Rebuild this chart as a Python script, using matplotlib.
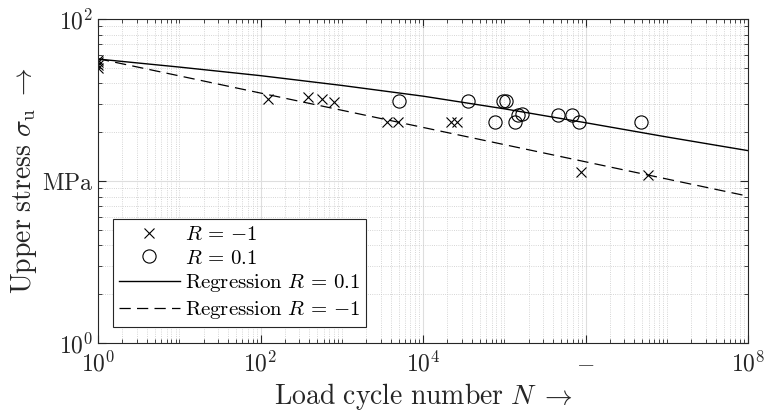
import numpy as np
import matplotlib
matplotlib.use("Agg")
import matplotlib.pyplot as plt
from matplotlib.ticker import FixedLocator, FixedFormatter, LogLocator, NullFormatter

plt.rcParams['mathtext.fontset'] = 'cm'
plt.rcParams['font.family'] = ['DejaVu Serif']

# Messwerte R = -1 (Kreuze)
n_rm1 = [1, 1, 1, 1, 125, 388, 566, 803, 3640, 4970, 21900, 26400, 872000, 5.93e6]
s_rm1 = [56, 54, 52, 50, 32.1, 32.9, 31.9, 30.9, 23.0, 23.2, 23.2, 23.2, 11.3, 10.9]

# Messwerte R = 0.1 (Kreise)
n_r01 = [5000, 36100, 77600, 97300, 105000, 135600, 146000, 164000,
         463000, 676000, 832000, 4.8e6]
s_r01 = [31.3, 31.3, 23.0, 31.3, 31.3, 23.0, 25.5, 25.8,
         25.5, 25.5, 23.0, 23.0]

# Regressionskurven
n_reg01 = [1, 1e1, 1e2, 1e3, 1e4, 1e5, 1e6, 1e7, 1e8]
s_reg01 = [56.6, 50.5, 44.7, 38.9, 33.4, 27.9, 22.9, 18.7, 15.4]
n_regm1 = [1, 1e8]
s_regm1 = [56.9, 8.06]

xticks = [1, 1e2, 1e4, 1e6, 1e8]
xticklabels = [r'$10^0$', r'$10^2$', r'$10^4$', r'$-$', r'$10^8$']
yticks = [1, 10, 100]
yticklabels = [r'$10^0$', r'$\mathrm{MPa}$', r'$10^2$']

fig = plt.figure(figsize=(7.64, 4.13), dpi=100)
ax = fig.add_axes([98/764, 70/413, 650/764, 324/413])

ax.plot(n_rm1, s_rm1, 'x', color='k', markersize=7, markeredgewidth=0.8,
        label=r'$R\,=\,{-1}$')
ax.plot(n_r01, s_r01, 'o', color='k', markerfacecolor='none', markersize=9.5,
        markeredgewidth=0.8, label=r'$R\,=\,0.1$')
ax.plot(n_reg01, s_reg01, '-', color='k', linewidth=1.0,
        label=r'$\mathrm{Regression}\ R\,=\,0.1$')
ax.plot(n_regm1, s_regm1, '--', color='k', linewidth=0.9, dashes=(9, 5),
        label=r'$\mathrm{Regression}\ R\,=\,{-1}$')

ax.set_xscale('log')
ax.set_yscale('log')
ax.set_xlim(1, 1e8)
ax.set_ylim(1, 100)

ax.xaxis.set_major_locator(FixedLocator(xticks))
ax.xaxis.set_major_formatter(FixedFormatter(xticklabels))
ax.xaxis.set_minor_locator(LogLocator(base=10, subs=np.arange(1, 10), numticks=100))
ax.xaxis.set_minor_formatter(NullFormatter())
ax.yaxis.set_major_locator(FixedLocator(yticks))
ax.yaxis.set_major_formatter(FixedFormatter(yticklabels))
ax.yaxis.set_minor_locator(LogLocator(base=10, subs=np.arange(2, 10), numticks=100))
ax.yaxis.set_minor_formatter(NullFormatter())

ax.grid(True, which='major', color='#dedede', linewidth=0.8)
ax.grid(True, which='minor', color='#c8c8c8', linestyle=':', linewidth=0.6)
ax.set_axisbelow(True)

ax.tick_params(which='both', direction='in', top=True, right=True,
               colors='#262626', labelcolor='#262626', labelsize=17)
ax.tick_params(which='major', length=6, width=0.8)
ax.tick_params(which='minor', length=3, width=0.6)
ax.tick_params(axis='x', pad=6)
for sp in ax.spines.values():
    sp.set_color('#262626')
    sp.set_linewidth(0.8)

ax.set_xlabel(r'$\mathrm{Load\ cycle\ number}\ N\;\rightarrow$', fontsize=20,
              color='#262626', labelpad=3)
ax.set_ylabel(r'$\mathrm{Upper\ stress}\ \sigma_\mathrm{u}\;\rightarrow$', fontsize=20,
              color='#262626', labelpad=2)

leg = ax.legend(loc='lower left', bbox_to_anchor=(0.023, 0.049), fontsize=15,
                fancybox=False, framealpha=1, edgecolor='#262626',
                handlelength=2.9, handletextpad=0.25, borderpad=0.3,
                labelspacing=0.22, borderaxespad=0)
leg.get_frame().set_linewidth(0.8)

fig.savefig('out.png', dpi=100)
